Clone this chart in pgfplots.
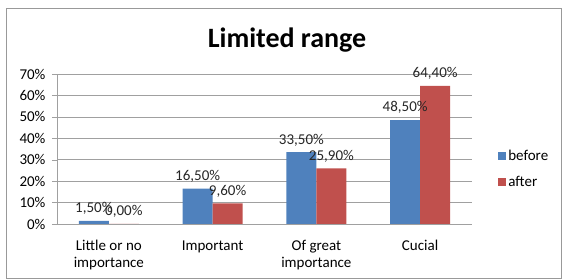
\documentclass[border=0pt]{standalone}
\usepackage{fontspec}
\setmainfont{Carlito}
\usepackage{pgfplots}
\pgfplotsset{compat=1.18}
\definecolor{cblue}{HTML}{4F81BD}
\definecolor{cred}{HTML}{C0504D}
\definecolor{gridc}{HTML}{A0A0A0}
\begin{document}
\begin{tikzpicture}[x=1pt,y=1pt]
\useasboundingbox (0,0) rectangle (564,280);
\draw[gray!80, line width=0.8pt] (6,2) rectangle (561,272);
\node[font=\fontsize{28}{32}\selectfont\bfseries] at (287,240) {Limited range};
\begin{axis}[
  at={(57pt,56pt)}, anchor=south west,
  scale only axis, width=415pt, height=150pt,
  ybar=0pt, bar width=30pt,
  xmin=-0.5, xmax=3.5, ymin=0, ymax=70,
  xtick={0,1,2,3},
  xticklabels={{Little or no\\importance},{Important},{Of great\\importance},{Cucial}},
  xticklabel style={align=center, font=\fontsize{15}{16.5}\selectfont, yshift=-8pt},
  extra x ticks={-0.5,0.5,1.5,2.5,3.5},
  extra x tick labels={},
  extra x tick style={major tick length=6pt, tick align=outside, tick style={gridc}},
  x tick style={draw=none},
  ytick={0,10,...,70},
  yticklabel={\pgfmathprintnumber{\tick}\%},
  yticklabel style={font=\fontsize{15}{18}\selectfont, xshift=-3pt},
  /pgf/number format/assume math mode=true,
  y tick style={gridc}, major tick length=5pt, tick align=outside,
  ymajorgrids, grid style={gridc, line width=0.7pt},
  axis lines*=left, axis line style={gridc, line width=0.8pt},
  nodes near coords={\pgfmathprintnumber[fixed,fixed zerofill,precision=2,use comma,assume math mode=true]{\pgfplotspointmeta}\%},
  every node near coord/.append style={font=\fontsize{15}{18}\selectfont, color=black!85, inner sep=2pt, yshift=4pt},
  legend style={at={(1.063,0.507)}, anchor=north west, draw=none, fill=none,
    font=\fontsize{15}{18}\selectfont, row sep=10pt, inner sep=0pt,
    legend cell align=left},
  clip=false,
]
\addplot[fill=cblue, draw=none, legend image code/.code={\fill[cblue] (0pt,-4pt) rectangle (8pt,4pt);}] coordinates {(0,1.5) (1,16.5) (2,33.5) (3,48.5)};
\addplot[fill=cred, draw=none, legend image code/.code={\fill[cred] (0pt,-4pt) rectangle (8pt,4pt);}] coordinates {(0,0) (1,9.6) (2,25.9) (3,64.4)};
\legend{before, after}
\end{axis}
\end{tikzpicture}
\end{document}
